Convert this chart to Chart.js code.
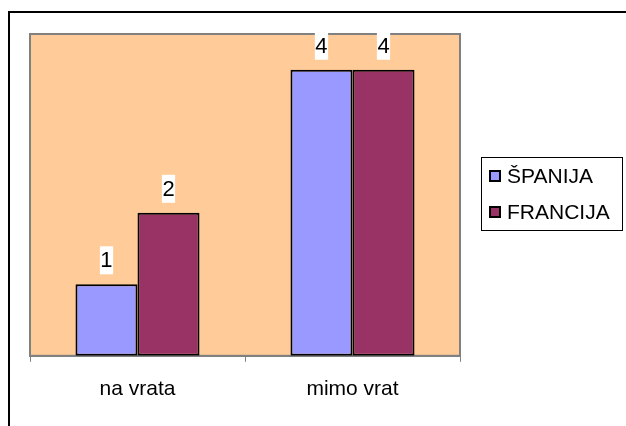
<!DOCTYPE html>
<html>
<head>
<meta charset="utf-8">
<script src="https://cdn.jsdelivr.net/npm/chart.js@4"></script>
<style>
  body { margin: 0; background: #fff; }
  canvas { display: block; }
</style>
</head>
<body>
<canvas id="myChart" width="626" height="426"></canvas>
<script>
var categories = ['na vrata', 'mimo vrat'];
var seriesNames = ['ŠPANIJA', 'FRANCIJA'];
var spanija = [1, 4];
var francija = [2, 4];
var colors = ['#9999FF', '#993366'];

var FONT = '"Liberation Sans", Arial, sans-serif';

// peach plot area, gray frame and the outer black border
var backdrop = {
    id: 'backdrop',
    beforeDraw: function (chart) {
        var c = chart.ctx, a = chart.chartArea;
        c.save();
        c.strokeStyle = '#000';
        c.lineWidth = 2;
        c.beginPath();
        c.moveTo(9, 430);
        c.lineTo(9, 12);
        c.lineTo(630, 12);
        c.stroke();
        c.fillStyle = '#FFCC99';
        c.fillRect(a.left, a.top, a.right - a.left, a.bottom - a.top);
        c.strokeStyle = '#808080';
        c.lineWidth = 2;
        c.strokeRect(a.left, a.top, a.right - a.left, a.bottom - a.top);
        c.restore();
    },
    afterDatasetsDraw: function (chart) {
        var c = chart.ctx;
        c.save();
        c.font = '22px ' + FONT;
        c.textAlign = 'center';
        c.textBaseline = 'middle';
        chart.data.datasets.forEach(function (ds, i) {
            chart.getDatasetMeta(i).data.forEach(function (bar, j) {
                var txt = String(ds.data[j]);
                var w = c.measureText(txt).width + 1;
                var h = 28;
                var bottom = bar.y - 10;
                c.fillStyle = '#fff';
                c.fillRect(bar.x - w / 2, bottom - h, w, h);
                c.fillStyle = '#000';
                c.fillText(txt, bar.x, bottom - h / 2 + 1);
            });
        });
        c.restore();
    },
    afterDraw: function (chart) {
        // legend box on the right
        var c = chart.ctx;
        c.save();
        c.strokeStyle = '#000';
        c.lineWidth = 1;
        c.strokeRect(481.5, 157.5, 141, 73);
        c.font = '21px ' + FONT;
        c.textBaseline = 'middle';
        c.textAlign = 'left';
        chart.data.datasets.forEach(function (ds, i) {
            var y = 176 + i * 36;
            c.fillStyle = ds.backgroundColor;
            c.fillRect(489, y - 6, 12, 12);
            c.strokeStyle = '#000';
            c.lineWidth = 2;
            c.strokeRect(490, y - 5, 10, 10);
            c.fillStyle = '#000';
            c.fillText(ds.label, 507, y + 1);
        });
        c.restore();
    }
};

var ctx = document.getElementById('myChart').getContext('2d');
var myChart = new Chart(ctx, {
    type: 'bar',
    data: {
        labels: categories,
        datasets: [{
            label: seriesNames[0],
            data: spanija,
            backgroundColor: colors[0],
            borderColor: '#000',
            borderWidth: 2,
            borderSkipped: false
        }, {
            label: seriesNames[1],
            data: francija,
            backgroundColor: colors[1],
            borderColor: '#000',
            borderWidth: 2,
            borderSkipped: false
        }]
    },
    options: {
        responsive: false,
        animation: false,
        events: [],
        layout: {
            padding: { left: 30, top: 34, right: 166, bottom: 9 }
        },
        datasets: {
            bar: { barPercentage: 1, categoryPercentage: 0.577 }
        },
        plugins: {
            legend: { display: false },
            tooltip: { enabled: false }
        },
        scales: {
            x: {
                grid: {
                    offset: true,
                    drawOnChartArea: false,
                    tickLength: 6,
                    color: '#808080'
                },
                border: { color: '#808080', width: 2 },
                ticks: {
                    color: '#000',
                    padding: 15,
                    font: { family: FONT, size: 21 }
                }
            },
            y: {
                display: false,
                min: 0,
                max: 4.5
            }
        }
    },
    plugins: [backdrop]
});
</script>
</body>
</html>
